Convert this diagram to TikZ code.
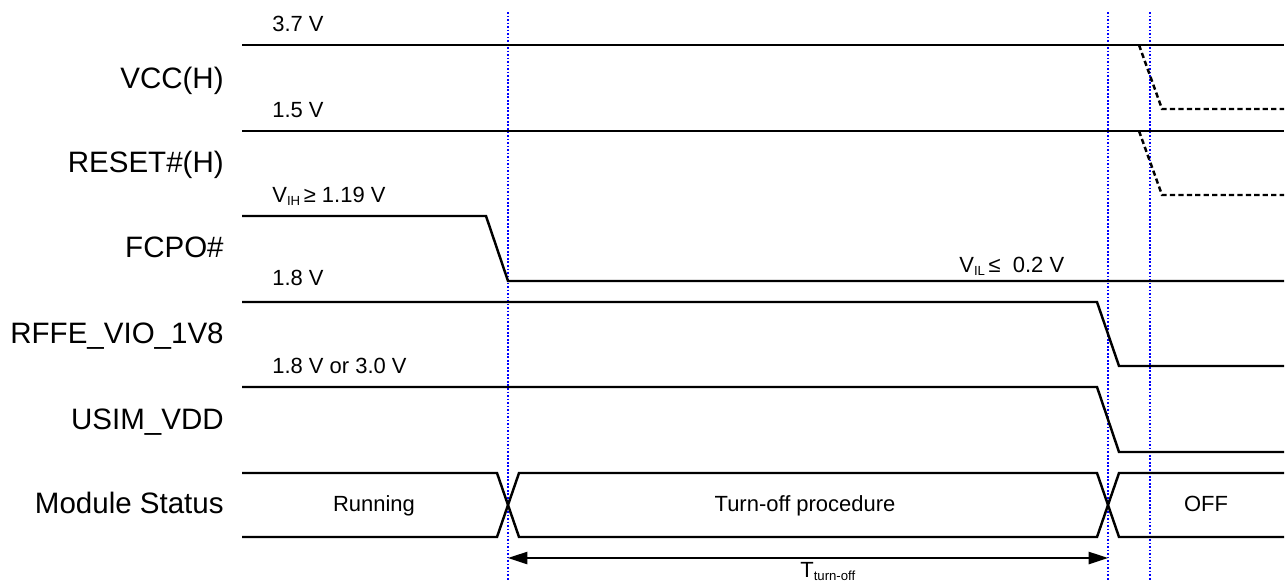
\documentclass[tikz,border=0pt]{standalone}
\usepackage{fontspec}
\setmainfont{Liberation Sans}
\usetikzlibrary{arrows.meta}
\newcommand\lowtext[1]{\raisebox{-0.3ex}{\fontsize{7.5}{8}\selectfont #1}}

\begin{document}
\begin{tikzpicture}[x=0.02cm, y=-0.02cm,
    wave/.style={line width=1.4pt},
    fade/.style={line width=1.4pt, dash pattern=on 3pt off 1.8pt},
    guide/.style={blue, line width=1pt, dash pattern=on 1pt off 1pt},
    signame/.style={anchor=base east, inner sep=0pt, font=\fontsize{16.8}{20}\selectfont},
    levelname/.style={anchor=base west, inner sep=0pt, font=\fontsize{12.5}{15}\selectfont},
    statename/.style={anchor=base, inner sep=0pt, font=\fontsize{12.5}{15}\selectfont}]
    \useasboundingbox (0,0) rectangle (1287,582);

    % signal names
    \node [signame] (vcc) at (224, 88) {VCC(H)};
    \node [signame] (reset) at (224, 172) {RESET\#(H)};
    \node [signame] (fcpo) at (224, 257) {FCPO\#};
    \node [signame] (rffe) at (224, 343) {RFFE\_VIO\_1V8};
    \node [signame] (usim) at (224, 429) {USIM\_VDD};
    \node [signame] (status) at (224, 513) {Module Status};

    % levels
    \node [levelname] (vcchi) at (272, 31) {3.7 V};
    \node [levelname] (resethi) at (272, 117) {1.5 V};
    \node [levelname] (fcpohi) at (272, 202) {V\lowtext{IH}\,≥ 1.19 V};
    \node [levelname] (fcpolo) at (959, 272) {V\lowtext{IL}\,≤\ \ 0.2 V};
    \node [levelname] (rffehi) at (272, 285) {1.8 V};
    \node [levelname] (usimhi) at (272, 373) {1.8 V or 3.0 V};

    % states
    \node [statename] (running) at (374, 511) {Running};
    \node [statename] (procedure) at (805, 511) {Turn-off procedure};
    \node [statename] (off) at (1206, 511) {OFF};

    % guides
    \coordinate (start) at (508, 558);
    \coordinate (stop) at (1108, 558);
    \draw [guide] (508, 12) -- (508, 580);
    \draw [guide] (1108, 12) -- (1108, 580);
    \draw [guide] (1150, 12) -- (1150, 580);

    % waveforms
    \draw [wave] (242, 45) -- (1284, 45);
    \draw [fade] (1139, 45) -- (1162, 109) -- (1284, 109);
    \draw [wave] (242, 131) -- (1284, 131);
    \draw [fade] (1139, 131) -- (1162, 195) -- (1284, 195);
    \draw [wave] (242, 216) -- (486, 216) -- (508, 281) -- (1284, 281);
    \draw [wave] (242, 302) -- (1097, 302) -- (1119, 366) -- (1284, 366);
    \draw [wave] (242, 387) -- (1097, 387) -- (1119, 452) -- (1284, 452);

    % module status
    \draw [wave] (242, 473) -- (497, 473) -- (519, 537) -- (1097, 537) -- (1119, 473) -- (1284, 473);
    \draw [wave] (242, 537) -- (497, 537) -- (519, 473) -- (1097, 473) -- (1119, 537) -- (1284, 537);

    \draw [{Stealth[length=11pt, width=7pt, inset=0pt]}-{Stealth[length=11pt, width=7pt, inset=0pt]}, line width=0.8pt] (start) -- (stop);
    \node [levelname] (toff) at (800, 577) {T\lowtext{turn-off}};
\end{tikzpicture}
\end{document}
